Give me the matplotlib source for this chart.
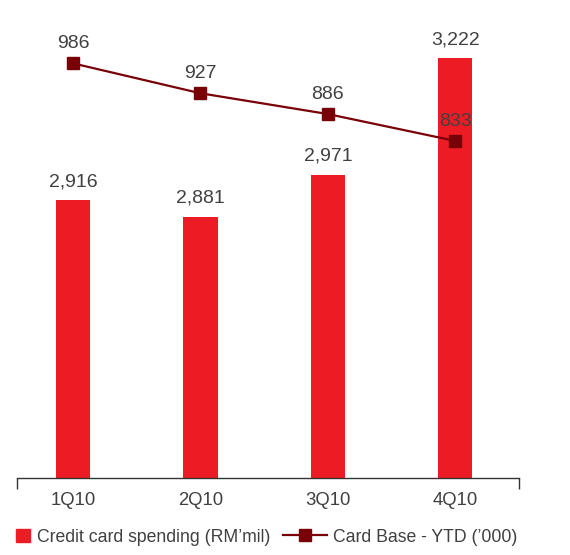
import numpy as np
import matplotlib.pyplot as plt
from matplotlib.patches import Patch
from matplotlib.lines import Line2D

plt.rcParams['font.family'] = ['Liberation Sans', 'DejaVu Sans']

quarters = ['1Q10', '2Q10', '3Q10', '4Q10']
spending = [2916, 2881, 2971, 3222]
card_base = [986, 927, 886, 833]
spending_labels = ['2,916', '2,881', '2,971', '3,222']

bar_color = '#ED1C24'
line_color = '#7A0008'
text_color = '#404040'

fig = plt.figure(figsize=(5.7, 5.55), dpi=100)
ax = fig.add_axes([17 / 570, 77 / 555, 502 / 570, 478 / 555])
x = np.arange(len(quarters))

ax.bar(x, spending, width=0.27, color=bar_color, zorder=2)
for xi, v, lab in zip(x, spending, spending_labels):
    ax.annotate(lab, (xi, v), xytext=(0, 7), textcoords='offset points',
                ha='center', va='bottom', fontsize=14, color=text_color)
ax.set_ylim(2320, 3346)
ax.set_xlim(-0.44, 3.5)

for s in ['top', 'right', 'left']:
    ax.spines[s].set_visible(False)
ax.spines['bottom'].set_color('#333333')
ax.spines['bottom'].set_linewidth(1.0)
ax.set_yticks([])
ax.set_xticks(x)
ax.set_xticklabels(quarters, fontsize=13.3, color=text_color)
ax.tick_params(axis='x', which='major', length=0, pad=10)
ax.set_xticks([-0.44, 3.5], minor=True)
ax.tick_params(axis='x', which='minor', length=8, width=1.0, color='#333333', direction='out')

ax2 = ax.twinx()
ax2.plot(x, card_base, color=line_color, linewidth=1.6, marker='s', markersize=8, zorder=3)
for xi, v in zip(x, card_base):
    ax2.annotate(str(v), (xi, v), xytext=(0, 8), textcoords='offset points',
                 ha='center', va='bottom', fontsize=14, color=text_color)
ax2.set_ylim(168, 1111)
ax2.set_yticks([])
for s in ['top', 'right', 'left', 'bottom']:
    ax2.spines[s].set_visible(False)

leg_y = (555 - 537) / 555
h1 = Patch(color=bar_color, label='Credit card spending (RM\u2019mil)')
h2 = Line2D([], [], color=line_color, linewidth=1.6, marker='s', markersize=8,
            label='Card Base - YTD (\u2019000)')
leg1 = fig.legend(handles=[h1], loc='center left', bbox_to_anchor=(16 / 570, leg_y),
                  frameon=False, fontsize=12.7, handlelength=0.8, handleheight=0.8,
                  handletextpad=0.4, borderpad=0, borderaxespad=0, labelcolor=text_color)
leg2 = fig.legend(handles=[h2], loc='center left', bbox_to_anchor=(283 / 570, leg_y),
                  frameon=False, fontsize=12.7, handlelength=2.5, handletextpad=0.35,
                  borderpad=0, borderaxespad=0, labelcolor=text_color)

fig.savefig('out.png', dpi=100)
